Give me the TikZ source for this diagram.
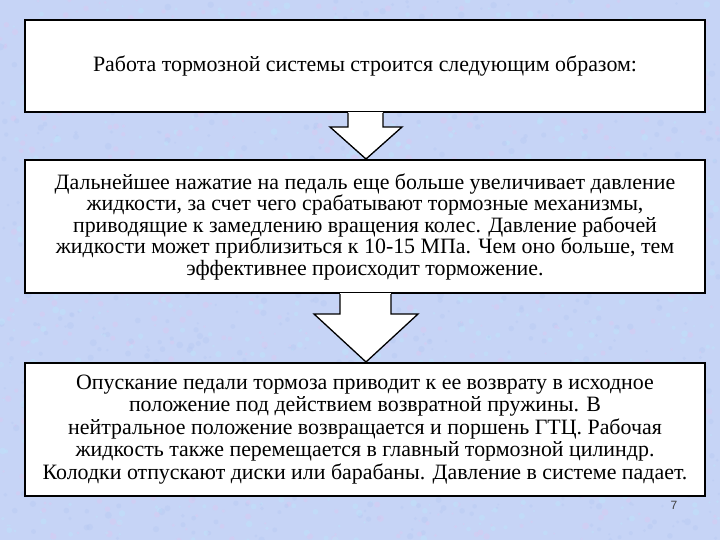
\documentclass[tikz,border=0pt]{standalone}
\usepackage{fontspec}
\setmainfont{Liberation Serif}
\newfontfamily\pagenumfont{Liberation Sans}
\usetikzlibrary{calc}
\definecolor{bgbase}{RGB}{198,212,246}
\definecolor{bglav}{RGB}{216,202,242}
\definecolor{bgcyan}{RGB}{190,226,250}
\definecolor{bgblue}{RGB}{182,200,242}
\tikzset{
  textbox/.style={draw=black, line width=2pt, fill=white, minimum width=680pt, inner sep=0pt, align=center, font=\fontsize{21.9}{21.5}\selectfont},
  blockarrow/.style={draw=black, line width=1.3pt, line join=miter, fill=white},
}
\begin{document}
\begin{tikzpicture}[x=1pt,y=-1pt]
\useasboundingbox (0,0) rectangle (720,540);
\fill[bgbase] (0,0) rectangle (720,540);
\pgfmathsetseed{7}
\begin{scope}
\clip (0,0) rectangle (720,540);
\foreach \i in {1,...,2500}{
  \pgfmathsetmacro{\px}{rnd*720}
  \pgfmathsetmacro{\py}{rnd*540}
  \pgfmathsetmacro{\pr}{1+rnd*2.5}
  \pgfmathtruncatemacro{\pc}{int(rnd*3)}
  \ifcase\pc
    \fill[bglav, opacity=0.5] (\px,\py) circle[radius=\pr];
  \or
    \fill[bgcyan, opacity=0.5] (\px,\py) circle[radius=\pr];
  \else
    \fill[bgblue, opacity=0.4] (\px,\py) circle[radius=\pr];
  \fi
}
\end{scope}

\node[textbox, minimum height=92pt] (b1) at (365,66) {Работа тормозной системы строится следующим образом:};
\node[textbox, minimum height=133pt] (b2) at (365,226.5) {Дальнейшее нажатие на педаль еще больше увеличивает давление\\ жидкости, за счет чего срабатывают тормозные механизмы,\\ приводящие к замедлению вращения колес. Давление рабочей\\ жидкости может приблизиться к 10-15 МПа. Чем оно больше, тем\\ эффективнее происходит торможение.};
\node[textbox, minimum height=133pt, font=\fontsize{21.9}{22.5}\selectfont] (b3) at (365,429.5) {Опускание педали тормоза приводит к ее возврату в исходное\\ положение под действием возвратной пружины. В\\ нейтральное положение возвращается и поршень ГТЦ. Рабочая\\ жидкость также перемещается в главный тормозной цилиндр.\\ Колодки отпускают диски или барабаны. Давление в системе падает.};

% arrow 1
\fill[white] ($(b1.south)+(-17,-1.2)$) rectangle ($(b1.south)+(18,14)$);
\draw[blockarrow] ($(b1.south)+(-17,0)$) -- ($(b1.south)+(-17,14)$) -- ($(b1.south)+(-35,14)$) -- ($(b2.north)+(1,0)$) -- ($(b1.south)+(37,14)$) -- ($(b1.south)+(18,14)$) -- ($(b1.south)+(18,0)$);
% arrow 2
\fill[white] ($(b2.south)+(-25,-1.2)$) rectangle ($(b2.south)+(26,20)$);
\draw[blockarrow] ($(b2.south)+(-25,0)$) -- ($(b2.south)+(-25,20)$) -- ($(b2.south)+(-51,20)$) -- ($(b3.north)+(1,0)$) -- ($(b2.south)+(53,20)$) -- ($(b2.south)+(26,20)$) -- ($(b2.south)+(26,0)$);

\node[font=\pagenumfont\fontsize{12}{12}\selectfont, text=black!75, inner sep=0pt] (pg) at (674,505) {7};
\end{tikzpicture}
\end{document}
